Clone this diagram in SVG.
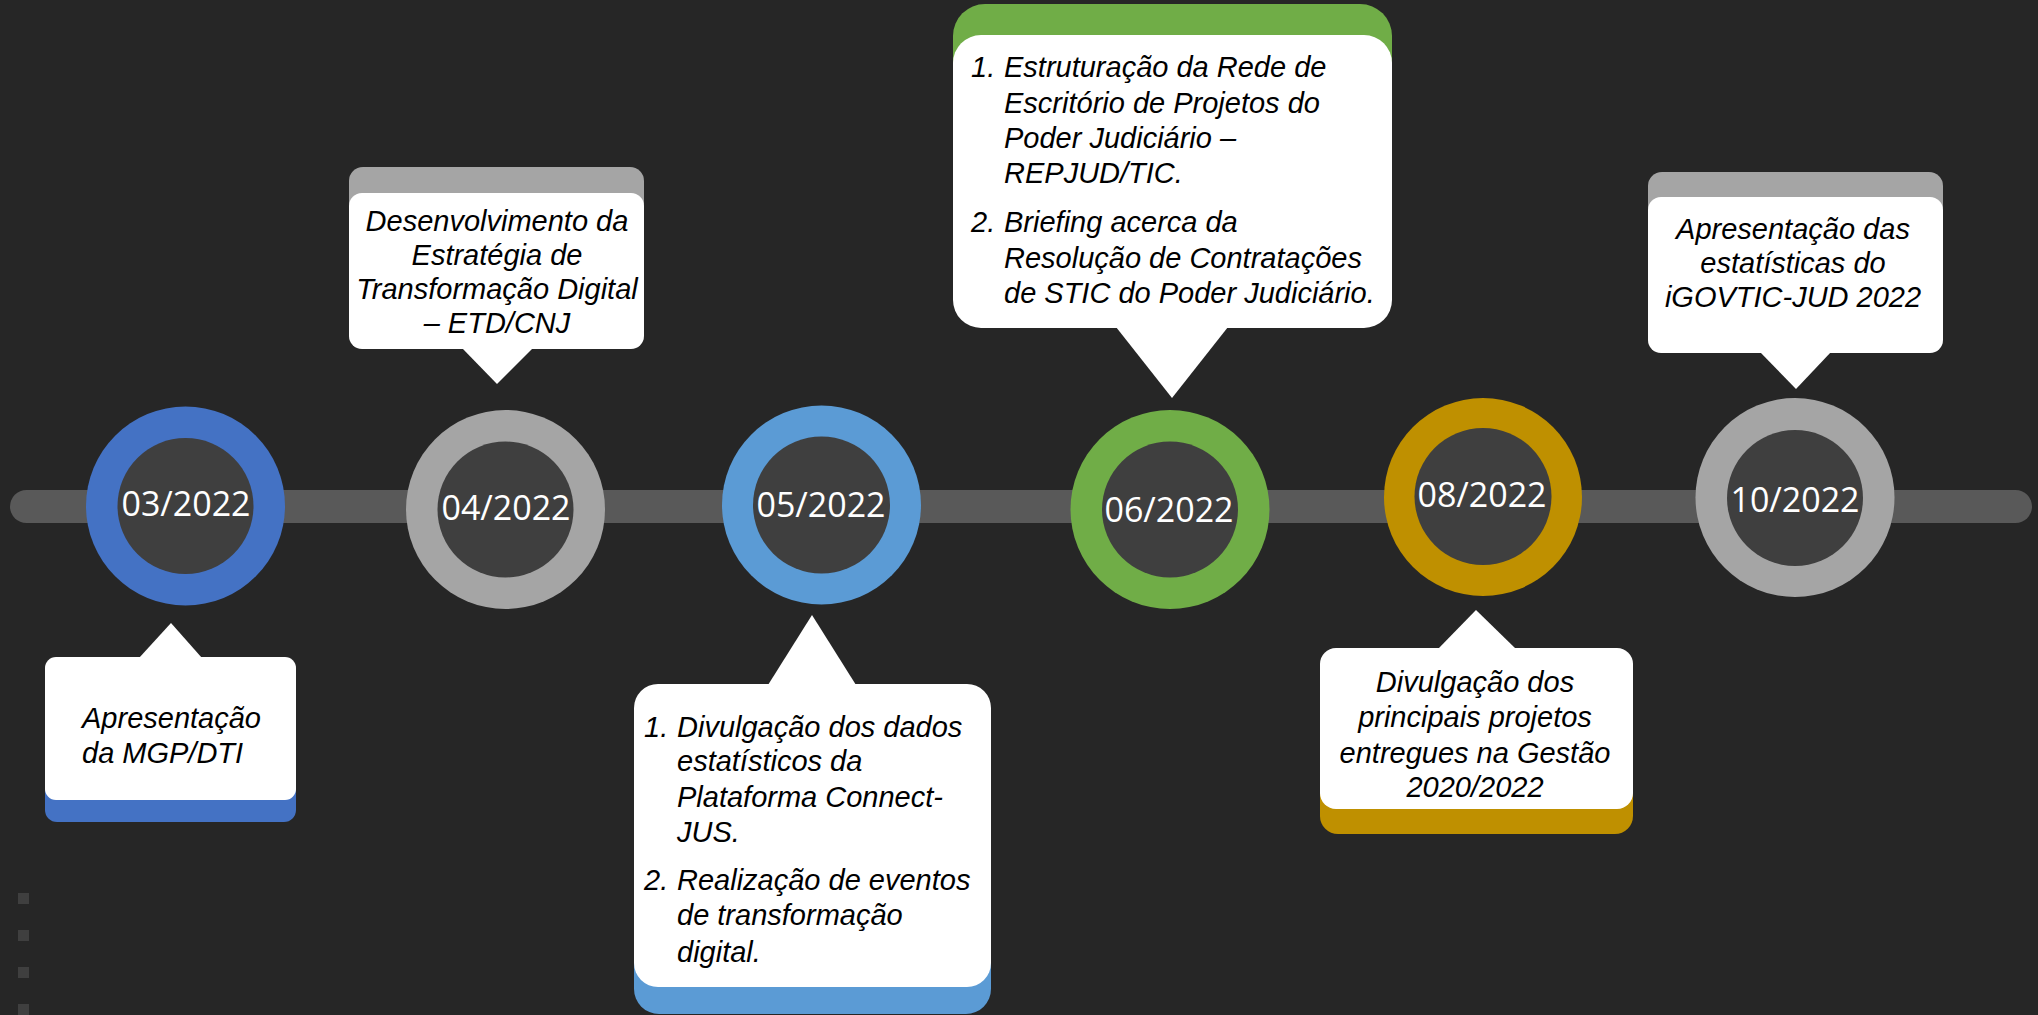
<svg xmlns="http://www.w3.org/2000/svg" width="2038" height="1015" viewBox="0 0 2038 1015">
<style>
.date{font-family:"Open Sans","Liberation Sans",sans-serif;font-size:34px;fill:#ffffff;text-anchor:middle}
.note{font-family:"Liberation Sans",Arial,sans-serif;font-style:italic;font-size:29px;fill:#000000}
.mid{text-anchor:middle}
.inner{fill:#3f3f3f}
.card{fill:#ffffff}
.deco{fill:#3f3f3f}
</style>
<rect x="0" y="0" width="2038" height="1015" fill="#262626"/>
<g id="decor">
<rect class="deco" x="18" y="893" width="11" height="11"/>
<rect class="deco" x="18" y="930" width="11" height="11"/>
<rect class="deco" x="18" y="967" width="11" height="11"/>
<rect class="deco" x="18" y="1004" width="11" height="11"/>
</g>
<g id="connectors">
<rect x="10" y="490" width="2022" height="33" rx="16.5" fill="#595959"/>
</g>
<g id="m03">
<circle cx="185.5" cy="506" r="99.5" fill="#4472c4"/>
<circle class="inner" cx="185.5" cy="506" r="68"/>
<text class="date" x="186" y="516">03/2022</text>
</g>
<g id="n03">
<rect x="45" y="690" width="251" height="132" rx="12" fill="#4472c4"/>
<rect class="card" x="45" y="657" width="251" height="143" rx="11"/>
<polygon class="card" points="139,658 171,623 202,658"/>
<text class="note" x="82" y="728">Apresentação</text>
<text class="note" x="82" y="763">da MGP/DTI</text>
</g>
<g id="m04">
<circle cx="505.5" cy="509.5" r="99.5" fill="#a5a5a5"/>
<circle class="inner" cx="505.5" cy="509.5" r="68"/>
<text class="date" x="506" y="520">04/2022</text>
</g>
<g id="n04">
<rect x="349" y="167" width="295" height="140" rx="14" fill="#a5a5a5"/>
<rect class="card" x="349" y="193" width="295" height="156" rx="13"/>
<polygon class="card" points="462,348 497,384 533,348"/>
<text class="note mid" x="497" y="231">Desenvolvimento da</text>
<text class="note mid" x="497" y="265">Estratégia de</text>
<text class="note mid" x="497" y="299">Transformação Digital</text>
<text class="note mid" x="497" y="333">– ETD/CNJ</text>
</g>
<g id="m05">
<circle cx="821.5" cy="505" r="99.5" fill="#5b9bd5"/>
<circle class="inner" cx="821.5" cy="505" r="68.5"/>
<text class="date" x="821" y="517">05/2022</text>
</g>
<g id="n05">
<rect x="634" y="720" width="357" height="294" rx="25" fill="#5b9bd5"/>
<rect class="card" x="634" y="684" width="357" height="303" rx="24"/>
<polygon class="card" points="768,685 812,615 856,685"/>
<text class="note" x="644" y="737">1.</text>
<text class="note" x="677" y="737">Divulgação dos dados</text>
<text class="note" x="677" y="771">estatísticos da</text>
<text class="note" x="677" y="807">Plataforma Connect-</text>
<text class="note" x="677" y="842">JUS.</text>
<text class="note" x="644" y="890">2.</text>
<text class="note" x="677" y="890">Realização de eventos</text>
<text class="note" x="677" y="925">de transformação</text>
<text class="note" x="677" y="962">digital.</text>
</g>
<g id="m06">
<circle cx="1170" cy="509.5" r="99.5" fill="#70ad47"/>
<circle class="inner" cx="1170" cy="509.5" r="68"/>
<text class="date" x="1169" y="522">06/2022</text>
</g>
<g id="n06">
<rect x="953" y="4" width="439" height="280" rx="32" fill="#70ad47"/>
<rect class="card" x="953" y="35" width="439" height="293" rx="28"/>
<polygon class="card" points="1116,327 1172,398 1228,327"/>
<text class="note" x="971" y="77">1.</text>
<text class="note" x="1004" y="77">Estruturação da Rede de</text>
<text class="note" x="1004" y="113">Escritório de Projetos do</text>
<text class="note" x="1004" y="148">Poder Judiciário –</text>
<text class="note" x="1004" y="183">REPJUD/TIC.</text>
<text class="note" x="971" y="232">2.</text>
<text class="note" x="1004" y="232">Briefing acerca da</text>
<text class="note" x="1004" y="268">Resolução de Contratações</text>
<text class="note" x="1004" y="303">de STIC do Poder Judiciário.</text>
</g>
<g id="m08">
<circle cx="1483" cy="497" r="99" fill="#bf9000"/>
<circle class="inner" cx="1483" cy="496.5" r="68.5"/>
<text class="date" x="1482" y="507">08/2022</text>
</g>
<g id="n08">
<rect x="1320" y="690" width="313" height="144" rx="18" fill="#bf9000"/>
<rect class="card" x="1320" y="648" width="313" height="161" rx="16"/>
<polygon class="card" points="1438,649 1476,610 1516,649"/>
<text class="note mid" x="1475" y="692">Divulgação dos</text>
<text class="note mid" x="1475" y="727">principais projetos</text>
<text class="note mid" x="1475" y="763">entregues na Gestão</text>
<text class="note mid" x="1475" y="797">2020/2022</text>
</g>
<g id="m10">
<circle cx="1795" cy="497.5" r="99.5" fill="#a5a5a5"/>
<circle class="inner" cx="1795" cy="498" r="68"/>
<text class="date" x="1795" y="512">10/2022</text>
</g>
<g id="n10">
<rect x="1648" y="172" width="295" height="140" rx="14" fill="#a5a5a5"/>
<rect class="card" x="1648" y="197" width="295" height="156" rx="13"/>
<polygon class="card" points="1760,352 1796,389 1831,352"/>
<text class="note mid" x="1793" y="239">Apresentação das</text>
<text class="note mid" x="1793" y="273">estatísticas do</text>
<text class="note mid" x="1793" y="307">iGOVTIC-JUD 2022</text>
</g>
</svg>
